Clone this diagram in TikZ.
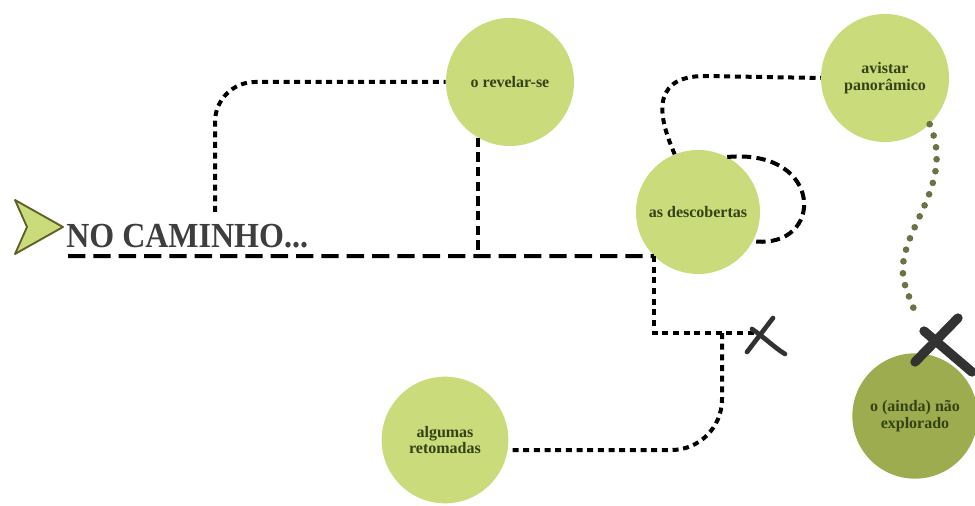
\documentclass[tikz,border=0pt]{standalone}
\usepackage{fontspec}
\setmainfont{Liberation Serif}
\definecolor{lgreen}{RGB}{201,219,122}
\definecolor{dgreen}{RGB}{156,172,78}
\definecolor{txtg}{RGB}{52,66,22}
\definecolor{olivedot}{RGB}{110,112,70}
\definecolor{xgray}{RGB}{50,50,50}
\definecolor{titleg}{RGB}{62,62,62}
\begin{document}
\begin{tikzpicture}[x=0.75pt,y=-0.75pt,
  bub/.style={circle,fill=lgreen,minimum size=96pt,inner sep=0pt,align=center,
    font=\bfseries\fontsize{12}{12.5}\selectfont,text=txtg},
  maindash/.style={line width=3pt,dash pattern=on 13pt off 6pt},
  smalldash/.style={line width=3pt,dash pattern=on 4.5pt off 3.5pt},
  meddash/.style={line width=3pt,dash pattern=on 7pt off 4pt},
  rounddots/.style={line width=5pt,line cap=round,dash pattern=on 0pt off 9pt,olivedot},
  xmark/.style={line cap=round,xgray}]
\useasboundingbox (0,0) rectangle (975,506);
% circles
\node[bub] (rev) at (510,82) {o revelar-se};
\node[bub] (avi) at (885,78) {avistar\\panorâmico};
\node[bub,minimum size=93pt] (desc) at (698,212) {as descobertas};
\node[bub,minimum size=95pt] (alg) at (445,440) {algumas\\retomadas};
\node[bub,fill=dgreen,minimum size=94pt] (nexp) at (915,416) {o (ainda) não\\explorado};
% title
\node[anchor=west,inner sep=0pt,text=titleg,font=\bfseries\fontsize{24}{28}\selectfont,yscale=1.1] (title) at (66,236) {NO CAMINHO...};
\coordinate (tA) at (15,200);
\coordinate (tB) at (63,227);
\coordinate (tC) at (15,254);
\coordinate (tD) at (27,227);
\draw[fill=lgreen,draw=olive!60!black,line width=1.4pt,line join=round] (tA) -- (tB) -- (tC) -- (tD) -- cycle;
% main line
\coordinate (m0) at (68,256);
\draw[maindash] (m0) -- (desc.225);
% revelar vertical
\draw[meddash] (rev.240) -- (rev.240 |- m0);
% top-left dotted arc
\coordinate (d0) at (215,212);
\draw[smalldash,rounded corners=30pt] (d0) |- (rev.west);
% desc to avistar
\draw[smalldash] (desc.112) .. controls (662,125) and (645,76) .. (705,76) -- (avi.west);
% loop
\draw[meddash] (desc.62) .. controls (825,148) and (825,250) .. (desc.-28);
% bottom branch
\coordinate (xs) at (758,333);
\coordinate (br) at (722,333);
\draw[smalldash] (desc.225) |- (xs);
\coordinate (ae) at (508,450);
\draw[smalldash,rounded corners=38pt] (br) |- (ae);
% small X
\draw[xmark,line width=3.5pt] (747,352) -- (773,318);
\draw[xmark,line width=3.5pt] (752,329) .. controls (765,338) and (775,348) .. (785,354);
% olive dots
\coordinate (bx) at (918,318);
\draw[rounddots] (avi.-46) .. controls (958,190) and (890,235) .. (905,285) .. controls (910,300) and (914,310) .. (bx);
% big X
\draw[xmark,line width=7pt] (915,362) -- (958,318);
\draw[xmark,line width=7pt] (924,331) -- (972,372);
\end{tikzpicture}
\end{document}
